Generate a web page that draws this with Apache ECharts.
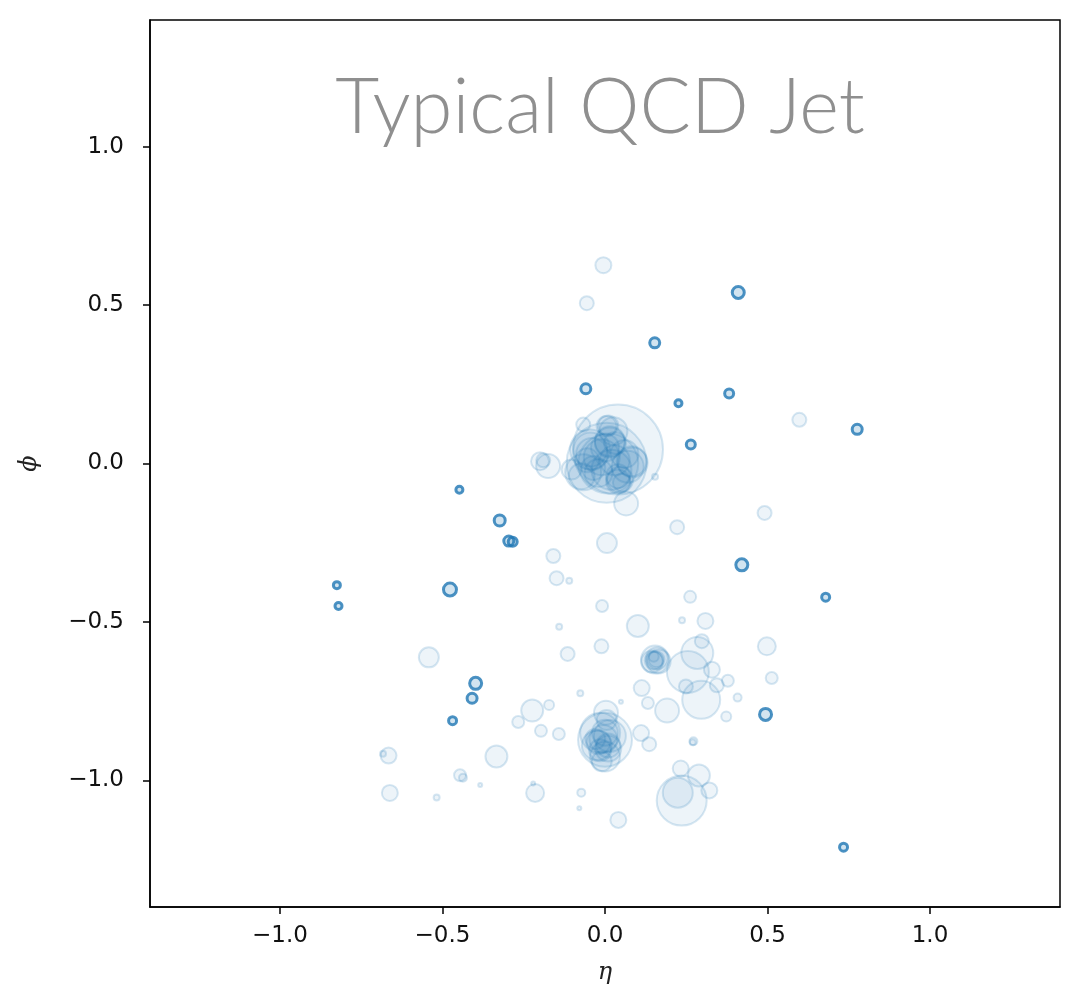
<!DOCTYPE html>
<html>
<head>
<meta charset="utf-8">
<script src="https://cdn.jsdelivr.net/npm/echarts@6/dist/echarts.min.js"></script>
<style>
html,body{margin:0;padding:0;background:#fff;}
#chart{width:1078px;height:999px;}
</style>
</head>
<body>
<div id="chart"></div>
<script>
// Tick values for both axes
const tickValues = [-1.0, -0.5, 0.0, 0.5, 1.0];
const chartTitle = 'Typical QCD Jet';
const xName = 'η';
const yName = 'ϕ';

// Hard constituents: [eta, phi, size]
const hardParticles = [
  [0.410, 0.540, 6], [0.153, 0.381, 5], [-0.059, 0.236, 5], [0.382, 0.221, 4.5],
  [0.226, 0.190, 3.5], [0.264, 0.060, 4.5], [0.776, 0.108, 5], [-0.448, -0.083, 3.5],
  [-0.324, -0.180, 5.5], [-0.296, -0.245, 5], [-0.284, -0.247, 4.5], [-0.477, -0.398, 6.5],
  [0.421, -0.320, 6], [-0.825, -0.384, 3.5], [-0.820, -0.450, 3.5], [0.679, -0.422, 4],
  [-0.398, -0.694, 6], [-0.409, -0.741, 5], [-0.469, -0.812, 4], [0.494, -0.792, 6],
  [0.734, -1.211, 4]
];

// Soft constituents: [eta, phi, size]
const softTop = [
  [-0.005, 0.626, 8], [-0.056, 0.506, 7], [0.598, 0.138, 7]
];
const softCore = [
  [0.040, 0.044, 45], [0.005, 0.002, 40], [-0.046, 0.044, 20], [0.015, 0.070, 15],
  [0.082, 0.007, 15], [0.046, -0.051, 13], [0.052, -0.060, 9], [-0.036, -0.014, 12],
  [-0.072, -0.040, 13], [-0.103, -0.019, 10], [0.005, 0.118, 10], [0.026, 0.102, 14],
  [-0.067, 0.123, 7], [0.031, 0.065, 11], [-0.175, -0.008, 12], [-0.200, 0.007, 9],
  [-0.190, 0.010, 7], [0.065, -0.126, 12], [0.154, -0.042, 3], [-0.010, 0.020, 18],
  [0.020, -0.020, 20], [-0.040, 0.030, 16], [0.060, 0.030, 14], [0.070, -0.010, 16],
  [0.000, 0.050, 14], [-0.020, -0.030, 14], [0.040, -0.040, 12], [-0.055, 0.010, 12],
  [0.030, 0.010, 15], [0.010, 0.000, 30], [0.085, 0.003, 15], [-0.045, 0.044, 17],
  [-0.067, -0.028, 18], [0.040, -0.057, 12], [0.015, 0.066, 15], [0.010, 0.120, 10]
];
const softMid = [
  [0.222, -0.201, 7], [0.491, -0.156, 7], [0.006, -0.251, 10], [-0.159, -0.292, 7],
  [-0.149, -0.362, 7], [-0.110, -0.370, 3], [0.262, -0.421, 6], [-0.009, -0.450, 6],
  [0.237, -0.495, 3], [0.309, -0.497, 8], [-0.141, -0.515, 3], [0.101, -0.513, 11],
  [0.498, -0.577, 9], [0.298, -0.561, 7], [-0.011, -0.577, 7], [-0.115, -0.601, 7],
  [-0.542, -0.612, 10],
  [0.154, -0.619, 14], [0.160, -0.615, 11], [0.150, -0.622, 9], [0.165, -0.625, 12],
  [0.150, -0.610, 5], [0.158, -0.618, 8], [0.145, -0.625, 11],
  [0.284, -0.598, 16], [0.255, -0.658, 21], [0.329, -0.651, 8], [0.378, -0.686, 6],
  [0.344, -0.700, 7], [0.249, -0.704, 7], [0.513, -0.677, 6], [0.408, -0.739, 4],
  [0.296, -0.746, 19], [0.191, -0.780, 12], [0.373, -0.799, 5], [0.113, -0.709, 8],
  [0.132, -0.756, 6], [0.049, -0.752, 2], [-0.076, -0.725, 3], [-0.172, -0.762, 5],
  [-0.224, -0.780, 11], [-0.267, -0.816, 6], [-0.197, -0.844, 6], [-0.142, -0.854, 6],
  [0.111, -0.851, 8], [0.136, -0.886, 7], [0.272, -0.877, 4], [0.270, -0.880, 3]
];
const softBottom = [
  [0.000, -0.872, 27], [-0.015, -0.850, 20], [-0.025, -0.890, 15], [0.000, -0.925, 15],
  [0.003, -0.787, 12], [0.005, -0.810, 10], [-0.020, -0.880, 12], [0.010, -0.900, 13],
  [-0.010, -0.940, 10], [0.015, -0.860, 16], [-0.030, -0.870, 10], [-0.005, -0.870, 14],
  [0.010, -0.890, 12], [-0.015, -0.905, 11], [0.000, -0.850, 13],
  [-0.666, -0.922, 8], [-0.683, -0.916, 3], [-0.334, -0.925, 11], [-0.446, -0.984, 6],
  [-0.437, -0.992, 4], [-0.384, -1.015, 2], [-0.662, -1.040, 8], [-0.518, -1.054, 3],
  [-0.215, -1.040, 9], [-0.221, -1.010, 2], [-0.073, -1.039, 4], [-0.079, -1.088, 2],
  [0.041, -1.125, 8], [0.233, -0.963, 8], [0.289, -0.985, 11], [0.321, -1.032, 8],
  [0.236, -1.064, 25], [0.224, -1.039, 15]
];

const softParticles = [].concat(softTop, softCore, softMid, softBottom);

const fmt = v => {
  const s = Number(v).toFixed(1);
  return s.replace('-', '\u2212');
};

const chart = echarts.init(document.getElementById('chart'), null, {renderer: 'canvas'});
const axisCommon = {
  type: 'value',
  min: -1.4,
  max: 1.4,
  splitLine: {show: false},
  axisLine: {show: true, onZero: false, lineStyle: {color: '#000', width: 1.5}},
  axisTick: {show: true, inside: false, length: 7, customValues: tickValues, lineStyle: {color: '#000', width: 1.5}},
  axisLabel: {customValues: tickValues, formatter: fmt, color: '#111', fontSize: 23, fontFamily: 'DejaVu Sans'},
  nameLocation: 'middle',
  nameTextStyle: {fontSize: 24, fontStyle: 'italic', fontFamily: 'DejaVu Serif', color: '#222'}
};

chart.setOption({
  animation: false,
  backgroundColor: '#fff',
  grid: {left: 150, right: 18, top: 20, bottom: 92, show: true, borderColor: '#000', borderWidth: 1.5, containLabel: false},
  graphic: [{
    type: 'text',
    x: 600,
    y: 146,
    style: {
      text: chartTitle,
      fill: '#8f8f8f',
      font: '300 76px Lato',
      textAlign: 'center',
      textVerticalAlign: 'bottom'
    },
    z: 100
  }],
  xAxis: Object.assign({}, axisCommon, {
    name: xName, nameGap: 54,
    axisLabel: Object.assign({}, axisCommon.axisLabel, {margin: 18})
  }),
  yAxis: Object.assign({}, axisCommon, {
    name: yName, nameGap: 108, nameRotate: 90,
    axisLabel: Object.assign({}, axisCommon.axisLabel, {margin: 26})
  }),
  series: [
    {
      type: 'scatter',
      data: softParticles,
      symbol: 'circle',
      symbolSize: d => 2 * d[2],
      itemStyle: {color: 'rgba(31,119,180,0.1)', borderColor: 'rgba(31,119,180,0.22)', borderWidth: 2},
      emphasis: {disabled: true}
    },
    {
      type: 'scatter',
      data: hardParticles,
      symbol: 'circle',
      symbolSize: d => 2 * d[2],
      itemStyle: {color: 'rgba(31,119,180,0.25)', borderColor: '#1f77b4', borderWidth: 3},
      emphasis: {disabled: true}
    }
  ]
});
</script>
</body>
</html>
